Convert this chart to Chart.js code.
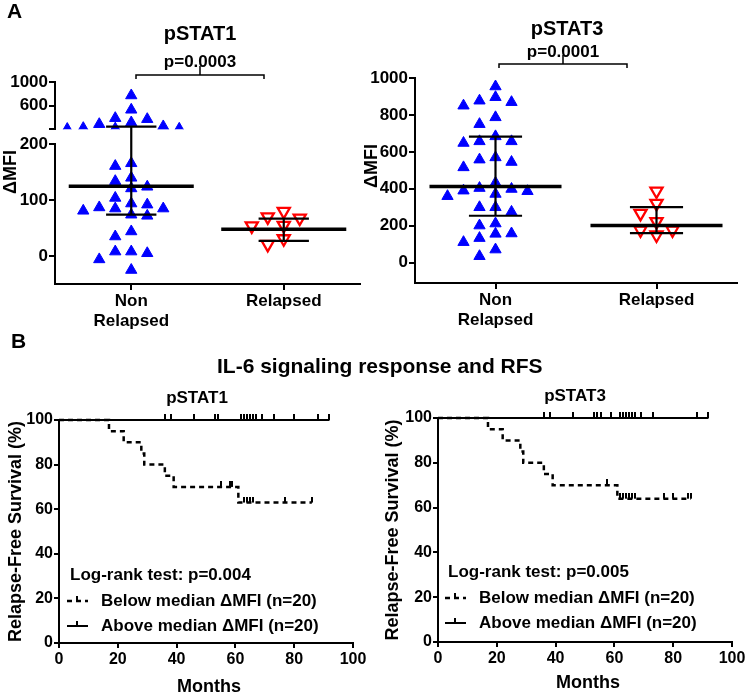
<!DOCTYPE html>
<html>
<head>
<meta charset="utf-8">
<script src="https://cdn.jsdelivr.net/npm/chart.js@4.4.1/dist/chart.umd.min.js"></script>
<style>
  html, body { margin: 0; padding: 0; background: #fff; }
  #wrap { position: relative; width: 750px; height: 695px; overflow: hidden; }
  #wrap canvas { position: absolute; }
  .lbl { position: absolute; font-family: 'Liberation Sans', Arial, sans-serif; font-weight: bold; line-height: 1; white-space: nowrap; color: #000; }
</style>
</head>
<body>
<div id="wrap">
  <canvas id="dotStat1" width="375" height="340" style="left:0px;top:0px"></canvas>
  <canvas id="dotStat3" width="395" height="340" style="left:355px;top:0px"></canvas>
  <canvas id="kmStat1" width="375" height="360" style="left:0px;top:335px"></canvas>
  <canvas id="kmStat3" width="375" height="360" style="left:375px;top:335px"></canvas>
  <div class="lbl" style="left:7px;top:0px;font-size:21px">A</div>
  <div class="lbl" style="left:11px;top:330px;font-size:21px">B</div>
  <div class="lbl" style="left:217px;top:355px;font-size:21px">IL-6 signaling response and RFS</div>
</div>
<script>
// ---- panel A data (ΔMFI) ----
const groups = ['Non Relapsed', 'Relapsed'];
const groupLabels = [['Non', 'Relapsed'], 'Relapsed'];

const stat1NonRelapsed = [772, 530, 388, 371, 315, 286, 248, 219, 212, 208, 204,
  166, 161, 140, 134, 124, 121, 104, 94, 87, 85, 74, 72, 81, 85, 92, 44, 35, 8, 5, 8, -6, -25];
const stat1Relapsed = [80, 70, 68, 55, 54, 31, 21];
const stat1Median = [125, 48];
const stat1Q1 = [74, 27];
const stat1Q3 = [245, 67];
const stat1TicksLow = [0, 100, 200];
const stat1TicksHigh = [200, 600, 1000];

const stat3NonRelapsed = [954, 896, 869, 850, 877, 787, 750, 684, 657, 648, 657, 558, 545, 570, 516,
  432, 399, 387, 372, 360, 390, 404, 300, 275, 300, 201, 212, 156, 111, 133, 158, 71, 35];
const stat3Relapsed = [388, 321, 267, 222, 177, 150, 177];
const stat3Median = [413, 202];
const stat3Q1 = [254, 160];
const stat3Q3 = [683, 301];
const stat3Ticks = [0, 200, 400, 600, 800, 1000];

// ---- panel B data (Kaplan-Meier) ----
const monthTicks = [0, 20, 40, 60, 80, 100];
const survTicks = [0, 20, 40, 60, 80, 100];

const km1BelowTimes = [0, 17, 22, 28, 29, 36, 39, 61, 86];
const km1BelowSurv = [100, 95, 90, 85, 80, 75, 70, 63, 63];
const km1BelowCensor = [55, 58, 59, 63, 64, 65, 66, 77, 86];
const km1AboveTimes = [0, 92];
const km1AboveSurv = [100, 100];
const km1AboveCensor = [36, 38, 46, 53, 54, 62, 63, 64, 65, 66, 67, 69, 73, 80, 88, 92];

const km3BelowTimes = [0, 17, 22, 28, 29, 36, 39, 61, 86];
const km3BelowSurv = [100, 95, 90, 85, 80, 75, 70, 64, 64];
const km3BelowCensor = [57.5, 62, 63, 64, 65, 66, 67, 77, 80, 85, 86];
const km3AboveTimes = [0, 92];
const km3AboveSurv = [100, 100];
const km3AboveCensor = [36, 38, 46, 53, 54, 55.5, 59, 62, 63, 64, 65, 66, 67, 69, 73, 88, 92];

const BLUE = '#0000ff';
const RED = '#ff0000';
const FONT = "'Liberation Sans', Arial, sans-serif";

Chart.defaults.font.family = FONT;
Chart.defaults.font.weight = 'bold';
Chart.defaults.color = '#000';
Chart.defaults.animation = false;
Chart.defaults.plugins.legend.display = false;
Chart.defaults.plugins.tooltip.enabled = false;

function label(ctx, str, x, y, size, align = 'center', rot = 0) {
  ctx.save();
  ctx.font = `bold ${size}px ${FONT}`;
  ctx.fillStyle = '#000';
  ctx.textAlign = align;
  ctx.textBaseline = 'middle';
  ctx.translate(x, y);
  if (rot) ctx.rotate(rot);
  ctx.fillText(str, 0, 0);
  ctx.restore();
}

function line(ctx, x0, y0, x1, y1, w = 2, dash = []) {
  ctx.save();
  ctx.strokeStyle = '#000';
  ctx.lineWidth = w;
  ctx.setLineDash(dash);
  ctx.beginPath();
  ctx.moveTo(x0, y0);
  ctx.lineTo(x1, y1);
  ctx.stroke();
  ctx.restore();
}

function bracket(ctx, x0, x1, y, xc, yTop) {
  ctx.save();
  ctx.strokeStyle = '#000';
  ctx.lineWidth = 1.5;
  ctx.beginPath();
  ctx.moveTo(x0, y + 4); ctx.lineTo(x0, y); ctx.lineTo(x1, y); ctx.lineTo(x1, y + 4);
  ctx.moveTo(xc, y); ctx.lineTo(xc, yTop);
  ctx.stroke();
  ctx.restore();
}

// spread points of one column sideways so they do not overlap (pixel space)
const beeswarm = {
  id: 'beeswarm',
  afterDatasetsUpdate(chart) {
    const cols = {};
    chart.data.datasets.forEach((ds, di) => {
      const meta = chart.getDatasetMeta(di);
      meta.data.forEach((pt, i) => {
        const key = meta.controller.getParsed(i).x;
        (cols[key] = cols[key] || []).push(pt);
      });
    });
    Object.values(cols).forEach(pts => {
      pts.sort((a, b) => a.y - b.y);
      const placed = [];
      pts.forEach(p => {
        for (let k = 0; k < 40; k++) {
          const off = (k % 2 ? -1 : 1) * Math.ceil(k / 2) * 8;
          const free = placed.every(q => Math.abs(q.off - off) >= 12 || Math.abs(q.y - p.y) >= 10);
          if (free) {
            placed.push({ off, y: p.y });
            p.x += off;
            break;
          }
        }
      });
    });
  }
};

function statLines(med, q1, q3, yPix) {
  return {
    id: 'statLines',
    afterDatasetsDraw(chart) {
      const ctx = chart.ctx;
      const x = chart.scales.x;
      const step = x.getPixelForValue(1) - x.getPixelForValue(0);
      med.forEach((m, i) => {
        const cx = x.getPixelForValue(i);
        const yM = yPix(chart, m), y1 = yPix(chart, q1[i]), y3 = yPix(chart, q3[i]);
        line(ctx, cx - step * 0.41, yM, cx + step * 0.41, yM, 3.5);
        line(ctx, cx - step * 0.165, y1, cx + step * 0.165, y1, 2.2);
        line(ctx, cx - step * 0.165, y3, cx + step * 0.165, y3, 2.2);
        line(ctx, cx, y1, cx, y3, 2.2);
      });
    }
  };
}

function tickGrid() {
  return { drawOnChartArea: false, drawTicks: true, tickLength: 6, color: '#000', lineWidth: 2 };
}

function columnX(height) {
  return {
    type: 'category',
    labels: groups,
    offset: true,
    grid: Object.assign(tickGrid(), { offset: false }),
    border: { color: '#000', width: 2 },
    ticks: { font: { size: 17 }, padding: 1, maxRotation: 0, autoSkip: false, callback: (v, i) => groupLabels[i] },
    afterFit: s => { s.height = height; }
  };
}

function fixedTicks(list) {
  return s => { s.ticks = list.map(v => ({ value: v })); };
}

function points(values, relapsed, axis) {
  return {
    data: values.map(v => ({ x: groups[relapsed ? 1 : 0], y: v })),
    yAxisID: axis,
    showLine: false,
    pointStyle: 'triangle',
    pointRotation: relapsed ? 180 : 0,
    pointRadius: relapsed ? 7 : 6.5,
    pointBackgroundColor: relapsed ? 'rgba(255,255,255,0)' : BLUE,
    pointBorderColor: relapsed ? RED : BLUE,
    pointBorderWidth: relapsed ? 2.3 : 1
  };
}

const plainNum = v => String(v);

// ---- pSTAT1 column scatter with broken y axis ----
const breakAt = 200;
new Chart(document.getElementById('dotStat1'), {
  type: 'line',
  data: {
    datasets: [
      points(stat1NonRelapsed.filter(v => v <= breakAt), false, 'y'),
      points(stat1NonRelapsed.filter(v => v > breakAt), false, 'yHigh'),
      points(stat1Relapsed, true, 'y')
    ]
  },
  options: {
    responsive: false,
    layout: { padding: { top: 82, right: 15, bottom: 0, left: 0 } },
    scales: {
      x: columnX(56),
      y: {
        position: 'left', stack: 'mfi', stackWeight: 139.7, min: -50, max: breakAt,
        grid: tickGrid(), border: { color: '#000', width: 2 },
        ticks: { font: { size: 17 }, padding: 1, autoSkip: false, callback: plainNum },
        afterBuildTicks: fixedTicks(stat1TicksLow),
        afterFit: s => { s.width = 55; }
      },
      yGap: {
        position: 'left', stack: 'mfi', stackWeight: 15, min: 0, max: 1,
        grid: { display: false }, border: { display: false }, ticks: { display: false },
        afterFit: s => { s.width = 55; }
      },
      yHigh: {
        position: 'left', stack: 'mfi', stackWeight: 47.3, min: breakAt, max: 1000,
        grid: tickGrid(), border: { color: '#000', width: 2 },
        ticks: { font: { size: 17 }, padding: 1, autoSkip: false, callback: v => v === breakAt ? '' : String(v) },
        afterBuildTicks: fixedTicks(stat1TicksHigh),
        afterFit: s => { s.width = 55; }
      }
    }
  },
  plugins: [
    beeswarm,
    statLines(stat1Median, stat1Q1, stat1Q3,
      (c, v) => v > breakAt ? c.scales.yHigh.getPixelForValue(v) : c.scales.y.getPixelForValue(v)),
    {
      id: 'notes',
      afterDraw(chart) {
        const ctx = chart.ctx;
        label(ctx, 'pSTAT1', 200, 34, 20);
        label(ctx, 'p=0.0003', 200, 62, 17);
        bracket(ctx, 136, 264, 75, 200, 66);
        label(ctx, 'ΔMFI', 11, 172, 18, 'center', -Math.PI / 2);
      }
    }
  ]
});

// ---- pSTAT3 column scatter ----
new Chart(document.getElementById('dotStat3'), {
  type: 'line',
  data: {
    datasets: [
      points(stat3NonRelapsed, false, 'y'),
      points(stat3Relapsed, true, 'y')
    ]
  },
  options: {
    responsive: false,
    layout: { padding: { top: 78, right: 13, bottom: 0, left: 0 } },
    scales: {
      x: columnX(57),
      y: {
        min: -110, max: 1000,
        grid: tickGrid(), border: { color: '#000', width: 2 },
        ticks: { font: { size: 17 }, padding: 1, autoSkip: false, callback: plainNum },
        afterBuildTicks: fixedTicks(stat3Ticks),
        afterFit: s => { s.width = 60; }
      }
    }
  },
  plugins: [
    beeswarm,
    statLines(stat3Median, stat3Q1, stat3Q3, (c, v) => c.scales.y.getPixelForValue(v)),
    {
      id: 'notes',
      afterDraw(chart) {
        const ctx = chart.ctx;
        label(ctx, 'pSTAT3', 212, 29, 20);
        label(ctx, 'p=0.0001', 208, 52, 17);
        bracket(ctx, 144, 272, 64, 208, 55);
        label(ctx, 'ΔMFI', 17, 166, 18, 'center', -Math.PI / 2);
      }
    }
  ]
});

// ---- Kaplan-Meier panels ----
function censorTick() {
  const c = document.createElement('canvas');
  c.width = 2;
  c.height = 12;
  const g = c.getContext('2d');
  g.fillStyle = '#000';
  g.fillRect(0, 0, 2, 6);
  return c;
}
const tickImg = censorTick();

function survAt(times, surv, t) {
  let s = surv[0];
  times.forEach((tt, i) => { if (tt <= t) s = surv[i]; });
  return s;
}

function kmChart(id, km, geo) {
  const stepLine = (times, surv, dash, w) => ({
    data: times.map((t, i) => ({ x: t, y: surv[i] })),
    borderColor: '#000', borderWidth: w, borderDash: dash,
    stepped: 'before', pointRadius: 0, clip: false
  });
  const censors = (times, surv, cens) => ({
    data: cens.map(t => ({ x: t, y: survAt(times, surv, t) })),
    showLine: false, pointStyle: tickImg, pointRadius: 3, clip: false
  });
  new Chart(document.getElementById(id), {
    type: 'line',
    data: {
      datasets: [
        stepLine(km.aboveTimes, km.aboveSurv, [], 2),
        stepLine(km.belowTimes, km.belowSurv, [5, 4], 2.5),
        censors(km.aboveTimes, km.aboveSurv, km.aboveCensor),
        censors(km.belowTimes, km.belowSurv, km.belowCensor)
      ]
    },
    options: {
      responsive: false,
      layout: { padding: { top: geo.top, right: geo.right, bottom: 0, left: 0 } },
      scales: {
        x: {
          type: 'linear', min: 0, max: 100,
          grid: Object.assign(tickGrid(), { tickLength: 5 }), border: { color: '#000', width: 2 },
          ticks: { font: { size: 16 }, padding: 2, autoSkip: false, callback: plainNum },
          afterBuildTicks: fixedTicks(monthTicks),
          afterFit: s => { s.height = geo.xh; }
        },
        y: {
          type: 'linear', min: 0, max: 100,
          grid: Object.assign(tickGrid(), { tickLength: 5 }), border: { color: '#000', width: 2 },
          ticks: { font: { size: 16 }, padding: 1, autoSkip: false, callback: plainNum },
          afterBuildTicks: fixedTicks(survTicks),
          afterFit: s => { s.width = geo.yw; }
        }
      }
    },
    plugins: [{
      id: 'notes',
      afterDraw(chart) {
        const ctx = chart.ctx;
        const a = chart.chartArea;
        label(ctx, km.title, geo.titleX, geo.titleY, 17);
        label(ctx, km.logRank, geo.legX, geo.legY, 17, 'left');
        const r1 = geo.legY + 26, r2 = geo.legY + 51;
        const sx = geo.legX - 3;
        line(ctx, sx, r1, sx + 21, r1, 2.5, [5, 4]);
        line(ctx, sx + 10, r1, sx + 10, r1 - 5, 2);
        line(ctx, sx, r2, sx + 21, r2, 2);
        line(ctx, sx + 10, r2, sx + 10, r2 - 5, 2);
        label(ctx, 'Below median ΔMFI (n=20)', geo.legX + 31, r1, 17, 'left');
        label(ctx, 'Above median ΔMFI (n=20)', geo.legX + 31, r2, 17, 'left');
        label(ctx, 'Months', (a.left + a.right) / 2 + 3, geo.monthsY, 18);
        label(ctx, 'Relapse-Free Survival (%)', geo.yTitleX, (a.top + a.bottom) / 2, 18, 'center', -Math.PI / 2);
      }
    }]
  });
}

kmChart('kmStat1', {
  title: 'pSTAT1', logRank: 'Log-rank test: p=0.004',
  belowTimes: km1BelowTimes, belowSurv: km1BelowSurv, belowCensor: km1BelowCensor,
  aboveTimes: km1AboveTimes, aboveSurv: km1AboveSurv, aboveCensor: km1AboveCensor
}, { top: 85, right: 22, xh: 52, yw: 59, titleX: 197, titleY: 63, legX: 70, legY: 240, monthsY: 352, yTitleX: 16 });

kmChart('kmStat3', {
  title: 'pSTAT3', logRank: 'Log-rank test: p=0.005',
  belowTimes: km3BelowTimes, belowSurv: km3BelowSurv, belowCensor: km3BelowCensor,
  aboveTimes: km3AboveTimes, aboveSurv: km3AboveSurv, aboveCensor: km3AboveCensor
}, { top: 83, right: 18, xh: 53, yw: 63, titleX: 200, titleY: 61, legX: 73, legY: 237, monthsY: 348, yTitleX: 18 });
</script>
</body>
</html>
